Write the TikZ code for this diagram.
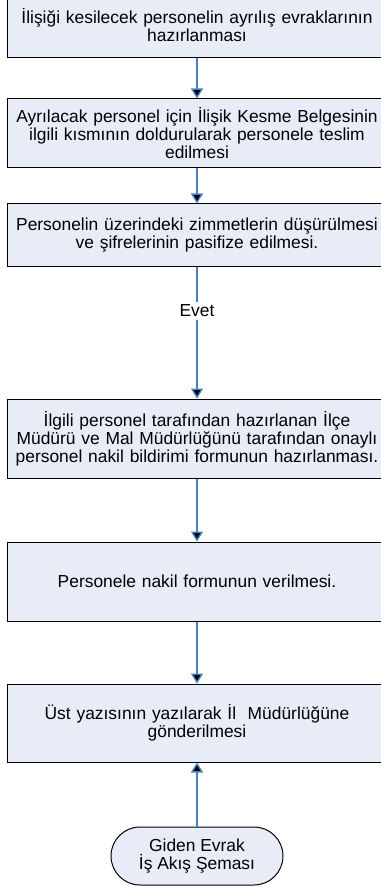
\documentclass[tikz,border=0pt]{standalone}
\usepackage{fontspec}
\setmainfont{Liberation Sans}
\usetikzlibrary{positioning, arrows.meta}

\definecolor{boxfill}{HTML}{E7ECF7}
\definecolor{flowblue}{HTML}{4A7EC2}

\tikzset{
    isbox/.style={draw=black, line width=1pt, fill=boxfill, minimum width=380pt,
        text width=378pt, align=center, inner sep=0pt,
        font=\fontsize{17.4}{18}\selectfont},
    endbox/.style={draw=black, line width=1pt, fill=boxfill, rounded corners=29pt,
        minimum width=172pt, minimum height=58pt, align=center, inner sep=0pt,
        font=\fontsize{17.4}{18}\selectfont},
    flow/.style={draw=flowblue, line width=1.4pt, -{Triangle[width=12pt,length=10pt]}}
}

\begin{document}
\begin{tikzpicture}[x=1pt, y=1pt, on grid]
    \useasboundingbox (0,0) rectangle (380,-890);

    \node[isbox, minimum height=66pt] (hazir) at (197,-25)
        {İlişiği kesilecek personelin ayrılış evraklarının\\hazırlanması};
    \node[isbox, minimum height=69pt] (belge) [below=108.5pt of hazir]
        {Ayrılacak personel için İlişik Kesme Belgesinin\\ilgili kısmının doldurularak personele teslim\\edilmesi};
    \node[isbox, minimum height=63pt] (zimmet) [below=102pt of belge]
        {Personelin üzerindeki zimmetlerin düşürülmesi\\ve şifrelerinin pasifize edilmesi.};
    \node[isbox, minimum height=79pt] (bildirim) [below=203pt of zimmet]
        {İlgili personel tarafından hazırlanan İlçe\\Müdürü ve Mal Müdürlüğünü tarafından onaylı\\personel nakil bildirimi formunun hazırlanması.};
    \node[isbox, minimum height=79pt] (form) [below=143pt of bildirim]
        {Personele nakil formunun verilmesi.};
    \node[isbox, minimum height=78pt] (ust) [below=141.5pt of form]
        {Üst yazısının yazılarak İl\ \ Müdürlüğüne\\gönderilmesi};
    \node[endbox] (sema) [below=133pt of ust] {Giden Evrak\\İş Akış Şeması};

    \path[flow]
    (hazir) edge (belge)
    (belge) edge (zimmet)
    (zimmet) edge node[pos=0.33, fill=white, text=black, inner sep=3pt,
        font=\fontsize{17.4}{18}\selectfont] {Evet} (bildirim)
    (bildirim) edge (form)
    (form) edge (ust)
    (sema) edge (ust);
\end{tikzpicture}
\end{document}
